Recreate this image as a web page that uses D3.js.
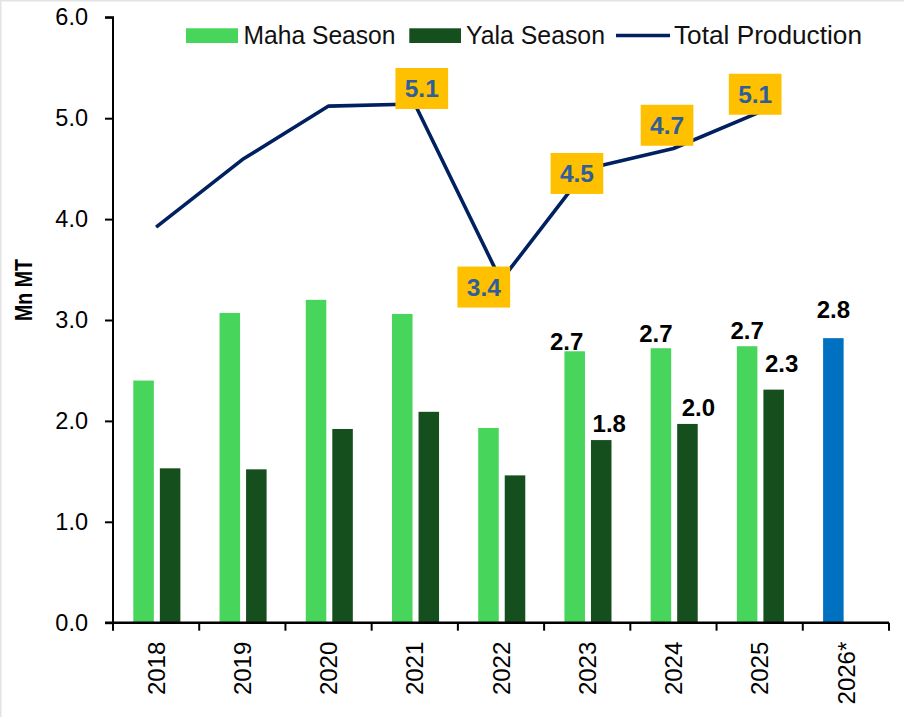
<!DOCTYPE html>
<html><head><meta charset="utf-8">
<script src="https://cdn.jsdelivr.net/npm/d3@7"></script>
<style>
html,body{margin:0;padding:0;background:#fff;}
svg{display:block;font-family:"Liberation Sans",Arial,sans-serif;}
</style></head>
<body><svg id="chart" width="904" height="717"></svg>
<script>
// ---- data ----
const categories = ["2018","2019","2020","2021","2022","2023","2024","2025","2026*"];
const mahaValues = [2.40, 3.07, 3.20, 3.06, 1.93, 2.69, 2.72, 2.74, null];
const yalaValues = [1.53, 1.52, 1.92, 2.09, 1.46, 1.81, 1.97, 2.31, null];
const forecastValues = [null, null, null, null, null, null, null, null, 2.82];
const totalValues = [3.92, 4.59, 5.12, 5.14, 3.39, 4.50, 4.70, 5.06, null];
const yTicks = [0, 1, 2, 3, 4, 5, 6];
const legendLabels = ["Maha Season", "Yala Season", "Total Production"];
// which points / bars carry data labels
const totalLabelShown = [false, false, false, true, true, true, true, true, false];
const mahaLabelShown  = [false, false, false, false, false, true, true, true, false];
const yalaLabelShown  = [false, false, false, false, false, true, true, true, false];

// ---- style / layout config ----
const colors = {maha:"#48D55C", yala:"#154F1E", forecast:"#0070C0", line:"#002060",
  labelBox:"#FFC000", labelText:"#2E5E9C"};
// label nudges (dx, dy) to mimic the reference placement
const totalLabelNudge = [[0,0],[0,0],[0,0],[7,-15.6],[-17.2,6.4],[-10.3,4.8],[-6.4,-23.2],[-4.5,-17.9],[0,0]];
const mahaLabelNudge = [[0,7.5],[0,7.5],[0,7.5],[0,7.5],[0,7.5],[-8,1],[-5,6.7],[0,7.7],[0,20]];
const yalaLabelNudge = [[0,7.5],[0,7.5],[0,7.5],[0,7.5],[0,7.5],[8,8],[11,7.7],[8,17.3],[0,7.5]];

const svg = d3.select("#chart");
const plotLeft = 113, plotRight = 889, plotTop = 17.3, plotBottom = 622.7;

// frame lines (top/left light border)
svg.append("line").attr("x1",0).attr("x2",904).attr("y1",0.75).attr("y2",0.75).attr("stroke","#E3E3E3").attr("stroke-width",1.5);
svg.append("line").attr("x1",0.75).attr("x2",0.75).attr("y1",0).attr("y2",717).attr("stroke","#E3E3E3").attr("stroke-width",1.5);

const x = d3.scaleBand().domain(categories).range([plotLeft, plotRight]).paddingInner(0).paddingOuter(0);
const bw = x.bandwidth();
const x1 = d3.scaleBand().domain(["maha","yala"]).range([bw*0.2357, bw*0.7815]).paddingInner(0.226).paddingOuter(0);
const y = d3.scaleLinear().domain([0, 6]).range([plotBottom, plotTop]);

// bars
const g = svg.append("g");
categories.forEach((c, i) => {
  if (mahaValues[i] != null) {
    g.append("rect").attr("x", x(c) + x1("maha")).attr("width", x1.bandwidth())
      .attr("y", y(mahaValues[i])).attr("height", y(0) - y(mahaValues[i])).attr("fill", colors.maha);
  }
  if (yalaValues[i] != null) {
    g.append("rect").attr("x", x(c) + x1("yala")).attr("width", x1.bandwidth())
      .attr("y", y(yalaValues[i])).attr("height", y(0) - y(yalaValues[i])).attr("fill", colors.yala);
  }
  if (forecastValues[i] != null) {
    g.append("rect").attr("x", x(c) + x1("maha")).attr("width", x1.bandwidth())
      .attr("y", y(forecastValues[i])).attr("height", y(0) - y(forecastValues[i])).attr("fill", colors.forecast);
  }
});

// bar labels
const barLabelFont = {size: "24px", weight: "bold"};
categories.forEach((c, i) => {
  const addLbl = (v, key, nudge) => {
    svg.append("text").attr("x", x(c) + x1(key) + x1.bandwidth()/2 + nudge[0])
      .attr("y", y(v) - nudge[1]).attr("text-anchor","middle")
      .attr("font-size", barLabelFont.size).attr("font-weight", barLabelFont.weight)
      .attr("fill","#000").text(d3.format(".1f")(v));
  };
  if (mahaValues[i] != null && mahaLabelShown[i]) addLbl(mahaValues[i], "maha", mahaLabelNudge[i]);
  if (yalaValues[i] != null && yalaLabelShown[i]) addLbl(yalaValues[i], "yala", yalaLabelNudge[i]);
  if (forecastValues[i] != null) addLbl(forecastValues[i], "maha", mahaLabelNudge[i]);
});

// y axis
const yAxis = d3.axisLeft(y).tickValues(yTicks).tickFormat(d3.format(".1f")).tickSize(8).tickPadding(17);
const ya = svg.append("g").attr("transform", `translate(${plotLeft},0)`).call(yAxis);
ya.select(".domain").attr("stroke","#000").attr("stroke-width",2).attr("d", `M-8,${plotTop}H0V${plotBottom}`);
ya.selectAll(".tick line").attr("stroke","#000").attr("stroke-width",2);
ya.selectAll(".tick text").attr("font-size","23.5px").attr("fill","#000")
  .attr("font-family","'Liberation Sans',Arial,sans-serif");

// x axis: ticks at band boundaries
const xa = svg.append("g").attr("transform", `translate(0,${plotBottom})`);
xa.append("line").attr("x1", plotLeft - 8).attr("x2", plotRight).attr("y1",0).attr("y2",0).attr("stroke","#000").attr("stroke-width",2.5);
const boundaries = categories.map(c => x(c)).concat([x(categories[categories.length-1]) + bw]);
xa.selectAll("line.tk").data(boundaries).join("line").attr("class","tk")
  .attr("x1", d => d).attr("x2", d => d).attr("y1", 0).attr("y2", 8).attr("stroke","#000").attr("stroke-width",2);
xa.selectAll("text").data(categories).join("text")
  .attr("transform", d => `translate(${x(d) + bw/2},19) rotate(-90)`)
  .attr("text-anchor","end").attr("dy","0.36em")
  .attr("font-size","24px").attr("fill","#000").text(d => d);

// y title
svg.append("text").attr("transform","translate(24,321) rotate(-90)")
  .attr("text-anchor","start").attr("dy","0.36em")
  .attr("font-size","23px").attr("font-weight","bold").attr("fill","#000")
  .attr("textLength", 62).attr("lengthAdjust","spacingAndGlyphs").text("Mn MT");

// line
const pts = categories.map((c, i) => ({c, v: totalValues[i], i})).filter(d => d.v != null);
const line = d3.line().x(d => x(d.c) + bw/2).y(d => y(d.v));
svg.append("path").datum(pts).attr("d", line).attr("fill","none")
  .attr("stroke", colors.line).attr("stroke-width", 3.6).attr("stroke-linejoin","round");

// line labels
const boxW = 52.7, boxH = 41;
pts.filter(d => totalLabelShown[d.i]).forEach(d => {
  const n = totalLabelNudge[d.i];
  const cx = x(d.c) + bw/2 + n[0], cy = y(d.v) + n[1];
  svg.append("rect").attr("x", cx - boxW/2).attr("y", cy - boxH/2).attr("width", boxW).attr("height", boxH).attr("fill", colors.labelBox);
  svg.append("text").attr("x", cx).attr("y", cy).attr("dy","0.36em").attr("text-anchor","middle")
    .attr("font-size","24.5px").attr("font-weight","bold").attr("fill", colors.labelText).text(d3.format(".1f")(d.v));
});

// legend
const leg = svg.append("g").attr("font-size","26px").attr("fill","#111");
leg.append("rect").attr("x",186).attr("y",28.3).attr("width",52).attr("height",14.7).attr("fill",colors.maha);
leg.append("text").attr("x",243.5).attr("y",43.5).attr("textLength",152).attr("lengthAdjust","spacingAndGlyphs").text(legendLabels[0]);
leg.append("rect").attr("x",409.3).attr("y",28.3).attr("width",51.7).attr("height",14.7).attr("fill",colors.yala);
leg.append("text").attr("x",466).attr("y",43.5).attr("textLength",139).attr("lengthAdjust","spacingAndGlyphs").text(legendLabels[1]);
leg.append("line").attr("x1",616).attr("x2",670).attr("y1",35.5).attr("y2",35.5).attr("stroke",colors.line).attr("stroke-width",3.6);
leg.append("text").attr("x",674).attr("y",43.5).attr("textLength",188).attr("lengthAdjust","spacingAndGlyphs").text(legendLabels[2]);
</script></body></html>
